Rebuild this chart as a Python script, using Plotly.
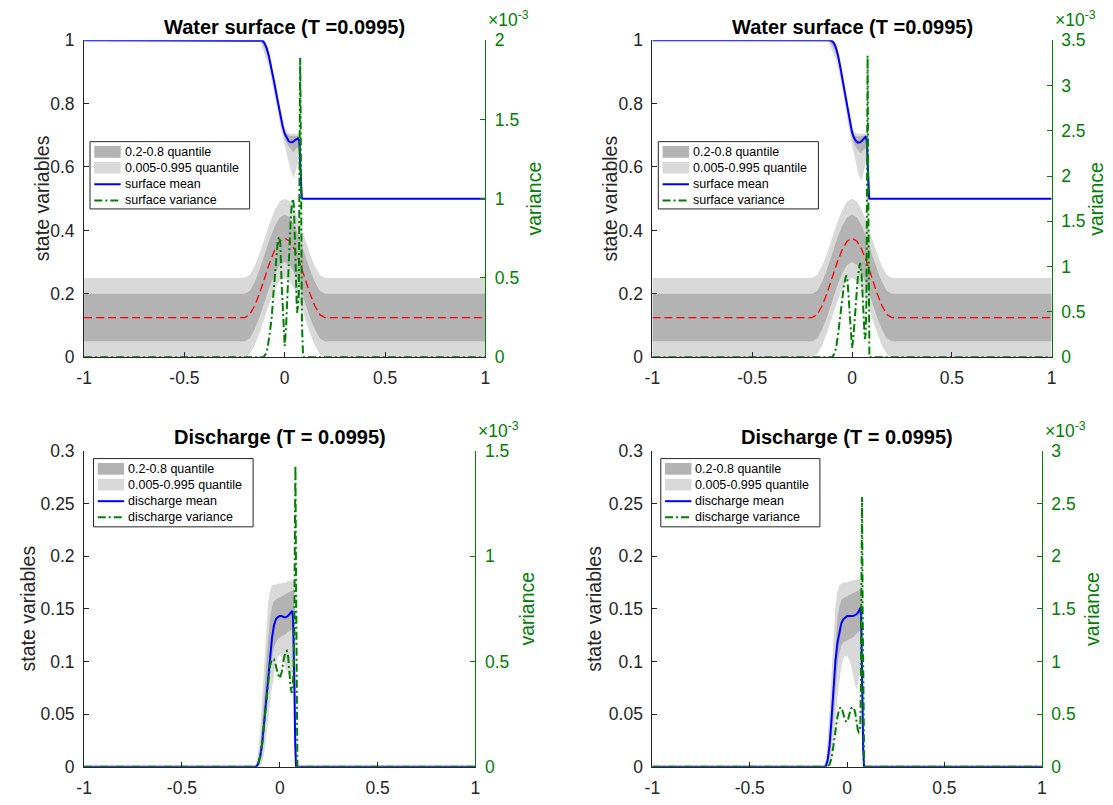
import plotly.graph_objects as go

W, H = 1113, 805

# ======================= DATA =======================
# x ticks
x_tickvals = [-1, -0.5, 0, 0.5, 1]
x_ticktext = ["-1", "-0.5", "0", "0.5", "1"]

# ---- bed (red dashed) and its quantile bands, shared by both surface panels ----
bed_x = [-1, -0.2, -0.175, -0.15, -0.125, -0.1, -0.075, -0.05, -0.025, 0,
         0.025, 0.05, 0.075, 0.1, 0.125, 0.15, 0.175, 0.2, 1]
bed_mean = [0.125, 0.125, 0.134, 0.162, 0.202, 0.25, 0.298, 0.338, 0.366, 0.375,
            0.366, 0.338, 0.298, 0.25, 0.202, 0.162, 0.134, 0.125, 0.125]
bed_q995 = [0.25, 0.25, 0.259, 0.287, 0.327, 0.375, 0.423, 0.463, 0.491, 0.5,
            0.491, 0.463, 0.423, 0.375, 0.327, 0.287, 0.259, 0.25, 0.25]
bed_q80 = [0.2, 0.2, 0.209, 0.237, 0.277, 0.325, 0.373, 0.413, 0.441, 0.45,
           0.441, 0.413, 0.373, 0.325, 0.277, 0.237, 0.209, 0.2, 0.2]
bed_q20 = [0.05, 0.05, 0.059, 0.087, 0.127, 0.175, 0.223, 0.263, 0.291, 0.3,
           0.291, 0.263, 0.223, 0.175, 0.127, 0.087, 0.059, 0.05, 0.05]
bed_q005 = [0.0, 0.0, 0.009, 0.037, 0.077, 0.125, 0.173, 0.213, 0.241, 0.25,
            0.241, 0.213, 0.173, 0.125, 0.077, 0.037, 0.009, 0.0, 0.0]

# ---- water surface, left panel ----
surf_band_x = [-1, -0.12, -0.1, -0.08, -0.06, -0.04, -0.02, 0, 0.01, 0.02, 0.03,
               0.04, 0.045, 0.05, 0.06, 0.07, 0.075, 0.08, 0.085, 0.09, 1]
surfL_q995 = [1, 1, 1, 0.972, 0.913, 0.845, 0.777, 0.722, 0.71, 0.706, 0.705,
              0.705, 0.705, 0.705, 0.705, 0.704, 0.69, 0.6, 0.51, 0.5, 0.5]
surfL_q80 = [1, 1, 0.998, 0.962, 0.903, 0.835, 0.767, 0.713, 0.703, 0.699, 0.698,
             0.698, 0.698, 0.699, 0.7, 0.698, 0.68, 0.57, 0.505, 0.5, 0.5]
surfL_q20 = [1, 1, 0.975, 0.938, 0.878, 0.81, 0.742, 0.69, 0.675, 0.665, 0.655,
             0.648, 0.648, 0.65, 0.66, 0.66, 0.62, 0.53, 0.5, 0.5, 0.5]
surfL_q005 = [1, 0.995, 0.955, 0.918, 0.858, 0.79, 0.722, 0.665, 0.64, 0.615, 0.59,
              0.57, 0.565, 0.575, 0.6, 0.62, 0.58, 0.51, 0.5, 0.5, 0.5]
surfL_x = [-1, -0.12, -0.11, -0.1, -0.09, -0.08, -0.07, -0.06, -0.05, -0.04, -0.03,
           -0.02, -0.01, 0, 0.01, 0.02, 0.03, 0.04, 0.05, 0.06, 0.066, 0.071, 0.075,
           0.078, 0.081, 0.085, 0.09, 1]
surfL_mean = [1, 1, 0.998, 0.99, 0.975, 0.953, 0.925, 0.893, 0.86, 0.825, 0.79,
              0.757, 0.728, 0.705, 0.69, 0.681, 0.678, 0.679, 0.684, 0.689, 0.69,
              0.685, 0.66, 0.6, 0.52, 0.502, 0.5, 0.5]
# variance in units of 1e-3
surfL_var_x = [-1, -0.105, -0.095, -0.085, -0.075, -0.065, -0.055, -0.045, -0.035,
               -0.028, -0.022, -0.015, -0.008, 0, 0.007, 0.015, 0.022, 0.03, 0.036,
               0.041, 0.046, 0.051, 0.056, 0.061, 0.066, 0.07, 0.074, 0.077, 0.079,
               0.082, 0.086, 0.091, 0.095, 1]
surfL_var = [0, 0, 0.02, 0.06, 0.15, 0.25, 0.42, 0.6, 0.73, 0.76, 0.72, 0.45, 0.22,
             0.07, 0.2, 0.47, 0.7, 0.88, 0.97, 1.0, 0.95, 0.78, 0.5, 0.28, 0.32, 0.4,
             1.0, 1.89, 1.6, 0.7, 0.2, 0.02, 0, 0]

# ---- water surface, right panel ----
surfR_q995 = [1, 1, 1, 0.99, 0.94, 0.87, 0.79, 0.73, 0.712, 0.706, 0.705,
              0.705, 0.705, 0.705, 0.705, 0.705, 0.695, 0.6, 0.51, 0.5, 0.5]
surfR_q80 = [1, 1, 1, 0.984, 0.93, 0.86, 0.78, 0.72, 0.702, 0.697, 0.696,
             0.696, 0.697, 0.698, 0.7, 0.7, 0.685, 0.58, 0.505, 0.5, 0.5]
surfR_q20 = [1, 1, 0.985, 0.96, 0.905, 0.835, 0.755, 0.695, 0.675, 0.662, 0.652,
             0.645, 0.645, 0.648, 0.655, 0.66, 0.635, 0.54, 0.5, 0.5, 0.5]
surfR_q005 = [1, 0.995, 0.965, 0.94, 0.885, 0.815, 0.735, 0.67, 0.64, 0.61, 0.585,
              0.565, 0.56, 0.56, 0.59, 0.62, 0.59, 0.52, 0.5, 0.5, 0.5]
surfR_x = [-1, -0.11, -0.1, -0.09, -0.08, -0.07, -0.06, -0.05, -0.04, -0.03, -0.02,
           -0.01, 0, 0.01, 0.02, 0.03, 0.04, 0.05, 0.06, 0.067, 0.072, 0.076, 0.079,
           0.082, 0.086, 0.09, 1]
surfR_mean = [1, 1, 0.997, 0.99, 0.975, 0.952, 0.92, 0.885, 0.85, 0.81, 0.77, 0.737,
              0.71, 0.692, 0.682, 0.677, 0.678, 0.683, 0.69, 0.695, 0.69, 0.665, 0.6,
              0.52, 0.502, 0.5, 0.5]
surfR_var_x = [-1, -0.1, -0.09, -0.08, -0.07, -0.06, -0.05, -0.04, -0.03, -0.024,
               -0.018, -0.012, -0.006, 0, 0.006, 0.012, 0.02, 0.028, 0.035, 0.041,
               0.047, 0.053, 0.059, 0.064, 0.068, 0.072, 0.075, 0.078, 0.081, 0.084,
               0.087, 1]
surfR_var = [0, 0, 0.03, 0.1, 0.25, 0.45, 0.62, 0.8, 0.9, 0.88, 0.7, 0.45, 0.22, 0.1,
             0.2, 0.4, 0.64, 0.85, 0.98, 1.04, 0.95, 0.65, 0.35, 0.2, 0.25, 0.6, 1.8,
             3.33, 2.0, 0.5, 0, 0]

# ---- discharge, left panel ----
dis_band_x = [-1, -0.13, -0.12, -0.11, -0.1, -0.09, -0.08, -0.07, -0.06, -0.05,
              -0.04, -0.03, -0.02, -0.01, 0, 0.01, 0.02, 0.03, 0.04, 0.05, 0.06,
              0.07, 0.074, 0.078, 0.082, 0.086, 1]
disL_q995 = [0, 0, 0.004, 0.015, 0.035, 0.065, 0.1, 0.13, 0.155, 0.167, 0.172,
             0.173, 0.173, 0.174, 0.174, 0.174, 0.175, 0.175, 0.176, 0.176, 0.177,
             0.177, 0.177, 0.12, 0.03, 0, 0]
disL_q80 = [0, 0, 0, 0.005, 0.018, 0.04, 0.068, 0.095, 0.12, 0.14, 0.152, 0.157,
            0.159, 0.16, 0.161, 0.162, 0.163, 0.164, 0.165, 0.166, 0.167, 0.168,
            0.165, 0.09, 0.01, 0, 0]
disL_q20 = [0, 0, 0, 0, 0.004, 0.012, 0.028, 0.048, 0.068, 0.088, 0.103, 0.113,
            0.118, 0.121, 0.123, 0.124, 0.125, 0.126, 0.128, 0.129, 0.13, 0.128,
            0.11, 0.04, 0.005, 0, 0]
disL_q005 = [0, 0, 0, 0, 0, 0.004, 0.012, 0.025, 0.042, 0.06, 0.075, 0.088, 0.098,
             0.104, 0.106, 0.104, 0.1, 0.095, 0.09, 0.087, 0.088, 0.09, 0.07, 0.02,
             0, 0, 0]
disL_x = [-1, -0.12, -0.11, -0.1, -0.09, -0.08, -0.07, -0.06, -0.05, -0.04, -0.03,
          -0.02, -0.01, 0, 0.01, 0.02, 0.03, 0.04, 0.05, 0.058, 0.064, 0.068, 0.071,
          0.075, 0.079, 0.083, 1]
disL_mean = [0, 0, 0.003, 0.01, 0.022, 0.042, 0.063, 0.085, 0.105, 0.122, 0.134,
             0.14, 0.142, 0.143, 0.143, 0.142, 0.142, 0.143, 0.145, 0.147, 0.148,
             0.14, 0.12, 0.07, 0.02, 0, 0]
disL_var_x = [-1, -0.12, -0.11, -0.1, -0.09, -0.08, -0.07, -0.06, -0.05, -0.04,
              -0.03, -0.02, -0.01, 0, 0.01, 0.02, 0.03, 0.036, 0.043, 0.05, 0.056,
              0.062, 0.066, 0.07, 0.074, 0.077, 0.08, 0.083, 0.086, 0.09, 1]
disL_var = [0, 0, 0.015, 0.05, 0.11, 0.21, 0.31, 0.41, 0.48, 0.51, 0.51, 0.48, 0.44,
            0.42, 0.45, 0.51, 0.545, 0.55, 0.52, 0.44, 0.37, 0.35, 0.38, 0.45, 0.6,
            1.1, 1.43, 0.9, 0.2, 0, 0]

# ---- discharge, right panel ----
disR_q995 = [0, 0, 0, 0.006, 0.025, 0.055, 0.09, 0.125, 0.152, 0.166, 0.172, 0.174,
             0.175, 0.175, 0.175, 0.176, 0.176, 0.177, 0.177, 0.178, 0.178, 0.178,
             0.178, 0.16, 0.04, 0, 0]
disR_q80 = [0, 0, 0, 0.002, 0.012, 0.032, 0.06, 0.09, 0.118, 0.14, 0.152, 0.158,
            0.16, 0.161, 0.162, 0.163, 0.164, 0.165, 0.166, 0.167, 0.168, 0.169,
            0.169, 0.13, 0.02, 0, 0]
disR_q20 = [0, 0, 0, 0, 0.003, 0.01, 0.025, 0.05, 0.075, 0.095, 0.108, 0.115, 0.118,
            0.119, 0.12, 0.121, 0.122, 0.123, 0.125, 0.126, 0.128, 0.13, 0.128, 0.08,
            0.01, 0, 0]
disR_q005 = [0, 0, 0, 0, 0, 0.003, 0.01, 0.025, 0.045, 0.065, 0.082, 0.095, 0.102,
             0.105, 0.105, 0.102, 0.097, 0.088, 0.078, 0.073, 0.082, 0.095, 0.09,
             0.04, 0, 0, 0]
disR_x = [-1, -0.11, -0.1, -0.09, -0.08, -0.07, -0.06, -0.05, -0.04, -0.03, -0.02,
          -0.01, 0, 0.01, 0.02, 0.03, 0.04, 0.05, 0.058, 0.064, 0.069, 0.072, 0.075,
          0.079, 0.083, 0.087, 1]
disR_mean = [0, 0, 0.006, 0.02, 0.045, 0.075, 0.1, 0.117, 0.128, 0.136, 0.14, 0.142,
             0.143, 0.143, 0.143, 0.143, 0.144, 0.145, 0.147, 0.149, 0.151, 0.145,
             0.12, 0.06, 0.015, 0, 0]
disR_var_x = [-1, -0.1, -0.09, -0.08, -0.07, -0.06, -0.05, -0.04, -0.032, -0.025,
              -0.018, -0.01, -0.003, 0.004, 0.012, 0.02, 0.028, 0.035, 0.042, 0.049,
              0.055, 0.06, 0.064, 0.068, 0.071, 0.074, 0.077, 0.08, 0.084, 0.088, 1]
disR_var = [0, 0, 0.02, 0.08, 0.2, 0.34, 0.47, 0.55, 0.565, 0.54, 0.48, 0.44, 0.425,
            0.44, 0.5, 0.55, 0.565, 0.56, 0.51, 0.42, 0.35, 0.33, 0.34, 0.4, 0.8, 1.8,
            2.56, 1.5, 0.3, 0, 0]

# ======================= STYLE / LAYOUT =======================
FONT = "Liberation Sans, Arial, Helvetica, sans-serif"
AX = "#262626"
GREEN = "#008000"
BLUE = "#0000ff"
RED = "#ff0000"
DARK = "#b3b3b3"
LIGHT = "#d9d9d9"
VAR_DASH = "8px,3px,2px,3px"
TICK_SIZE = 17.5
LABEL_SIZE = 19.5

# panel boxes in pixels: left, right, top, bottom
panels = [
    dict(l=77, r=483, t=31, b=356, ymax=1.0, yt=[0, 0.2, 0.4, 0.6, 0.8, 1],
         ytt=["0", "0.2", "0.4", "0.6", "0.8", "1"], vmax=2.0,
         vt=[0, 0.5, 1, 1.5, 2], vtt=["0", "0.5", "1", "1.5", "2"],
         title="Water surface (T =0.0995)", lab_l=43, lab_r=49,
         leg=(6, 104, 161.5, 69), what="surface"),
    dict(l=652, r=1056, t=31, b=356, ymax=1.0, yt=[0, 0.2, 0.4, 0.6, 0.8, 1],
         ytt=["0", "0.2", "0.4", "0.6", "0.8", "1"], vmax=3.5,
         vt=[0, 0.5, 1, 1.5, 2, 2.5, 3, 3.5],
         vtt=["0", "0.5", "1", "1.5", "2", "2.5", "3", "3.5"],
         title="Water surface (T =0.0995)", lab_l=43, lab_r=45,
         leg=(6, 104, 162, 69), what="surface"),
    dict(l=77, r=473, t=452, b=776, ymax=0.3,
         yt=[0, 0.05, 0.1, 0.15, 0.2, 0.25, 0.3],
         ytt=["0", "0.05", "0.1", "0.15", "0.2", "0.25", "0.3"], vmax=1.5,
         vt=[0, 0.5, 1, 1.5], vtt=["0", "0.5", "1", "1.5"],
         title="Discharge (T = 0.0995)", lab_l=57, lab_r=52,
         leg=(9.5, 8, 161.5, 70), what="discharge"),
    dict(l=652, r=1046, t=452, b=776, ymax=0.3,
         yt=[0, 0.05, 0.1, 0.15, 0.2, 0.25, 0.3],
         ytt=["0", "0.05", "0.1", "0.15", "0.2", "0.25", "0.3"], vmax=3.0,
         vt=[0, 0.5, 1, 1.5, 2, 2.5, 3], vtt=["0", "0.5", "1", "1.5", "2", "2.5", "3"],
         title="Discharge (T = 0.0995)", lab_l=59, lab_r=51,
         leg=(8.5, 8, 161, 70), what="discharge"),
]


def px(x):
    return x / W


def py(y):
    return 1 - y / H


fig = go.Figure()


def band(xa, upper, lower, color, xr, yr):
    fig.add_trace(go.Scatter(
        x=list(xa) + list(xa)[::-1], y=list(upper) + list(lower)[::-1],
        fill="toself", fillcolor=color, mode="lines", line=dict(width=0),
        xaxis=xr, yaxis=yr, showlegend=False, hoverinfo="skip"))


def line(xa, ya, color, width, dash, xr, yr):
    fig.add_trace(go.Scatter(
        x=xa, y=ya, mode="lines", line=dict(color=color, width=width, dash=dash),
        xaxis=xr, yaxis=yr, showlegend=False, hoverinfo="skip"))


series = [
    dict(bands=[(bed_x, bed_q995, bed_q005, LIGHT), (surf_band_x, surfL_q995, surfL_q005, LIGHT),
                (bed_x, bed_q80, bed_q20, DARK), (surf_band_x, surfL_q80, surfL_q20, DARK)],
         bed=True, mx=surfL_x, my=surfL_mean, vx=surfL_var_x, vy=surfL_var),
    dict(bands=[(bed_x, bed_q995, bed_q005, LIGHT), (surf_band_x, surfR_q995, surfR_q005, LIGHT),
                (bed_x, bed_q80, bed_q20, DARK), (surf_band_x, surfR_q80, surfR_q20, DARK)],
         bed=True, mx=surfR_x, my=surfR_mean, vx=surfR_var_x, vy=surfR_var),
    dict(bands=[(dis_band_x, disL_q995, disL_q005, LIGHT), (dis_band_x, disL_q80, disL_q20, DARK)],
         bed=False, mx=disL_x, my=disL_mean, vx=disL_var_x, vy=disL_var),
    dict(bands=[(dis_band_x, disR_q995, disR_q005, LIGHT), (dis_band_x, disR_q80, disR_q20, DARK)],
         bed=False, mx=disR_x, my=disR_mean, vx=disR_var_x, vy=disR_var),
]

annotations = []
shapes = []
layout_axes = {}

for i, (p, s) in enumerate(zip(panels, series)):
    n = i + 1
    xname = "x" if n == 1 else f"x{n}"
    yl = "y" if n == 1 else f"y{2 * n - 1}"
    yr = f"y{2 * n}"
    for (bx, up, lo, col) in s["bands"]:
        band(bx, up, lo, col, xname, yl)
    if s["bed"]:
        line(bed_x, bed_mean, RED, 1.3, "8px,4px", xname, yl)
    line(s["mx"], s["my"], BLUE, 2, "solid", xname, yl)
    line(s["vx"], s["vy"], GREEN, 2, VAR_DASH, xname, yr)

    xd = [px(p["l"]), px(p["r"])]
    yd = [py(p["b"]), py(p["t"])]
    xkey = "xaxis" if n == 1 else f"xaxis{n}"
    ylkey = "yaxis" if n == 1 else f"yaxis{2 * n - 1}"
    yrkey = f"yaxis{2 * n}"
    layout_axes[xkey] = dict(
        domain=xd, range=[-1, 1], anchor=yl, showline=True, linecolor=AX, linewidth=1,
        ticks="inside", ticklen=5, tickcolor=AX, tickwidth=1,
        tickvals=x_tickvals, ticktext=x_ticktext, showgrid=False, zeroline=False,
        tickfont=dict(family=FONT, size=TICK_SIZE, color=AX), ticklabelstandoff=5)
    layout_axes[ylkey] = dict(
        domain=yd, range=[0, p["ymax"]], anchor=xname, showline=True, linecolor=AX,
        linewidth=1, ticks="inside", ticklen=5, tickcolor=AX, tickwidth=1,
        tickvals=p["yt"], ticktext=p["ytt"], showgrid=False, zeroline=False,
        tickfont=dict(family=FONT, size=TICK_SIZE, color=AX), ticklabelstandoff=5)
    layout_axes[yrkey] = dict(
        overlaying=yl, side="right", range=[0, p["vmax"]], anchor=xname,
        showline=True, linecolor=GREEN, linewidth=1, ticks="inside", ticklen=5,
        tickcolor=GREEN, tickwidth=1, tickvals=p["vt"], ticktext=p["vtt"],
        showgrid=False, zeroline=False,
        tickfont=dict(family=FONT, size=TICK_SIZE, color=GREEN), ticklabelstandoff=5)

    # title
    annotations.append(dict(
        text="<b>" + p["title"] + "</b>", x=px((p["l"] + p["r"]) / 2), y=py(p["t"] - 14),
        xref="paper", yref="paper", xanchor="center", yanchor="middle", showarrow=False,
        font=dict(family=FONT, size=20, color="#000000")))
    # exponent label
    annotations.append(dict(
        text="×10<sup>-3</sup>", x=px(p["r"] + 1), y=py(p["t"] - 8),
        xref="paper", yref="paper", xanchor="left", yanchor="bottom", showarrow=False,
        font=dict(family=FONT, size=TICK_SIZE, color=GREEN)))
    # axis labels
    ymid = (p["t"] + p["b"]) / 2
    annotations.append(dict(
        text="state variables", x=px(p["l"] - p["lab_l"]), y=py(ymid), textangle=-90,
        xref="paper", yref="paper", xanchor="center", yanchor="middle", showarrow=False,
        font=dict(family=FONT, size=LABEL_SIZE, color=AX)))
    annotations.append(dict(
        text="variance", x=px(p["r"] + p["lab_r"]), y=py(ymid), textangle=-90,
        xref="paper", yref="paper", xanchor="center", yanchor="middle", showarrow=False,
        font=dict(family=FONT, size=LABEL_SIZE, color=GREEN)))

    # legend (drawn box)
    ox, oy, bw, bh = p["leg"]
    bx0 = p["l"] + ox
    by0 = p["t"] + oy
    shapes.append(dict(type="rect", xref="paper", yref="paper",
                       x0=px(bx0), x1=px(bx0 + bw), y0=py(by0 + bh), y1=py(by0),
                       line=dict(color=AX, width=1), fillcolor="white", layer="above"))
    rows = [10.5, 26.7, 43.7, 60.3]
    labels = ["0.2-0.8 quantile", "0.005-0.995 quantile",
              p["what"] + " mean", p["what"] + " variance"]
    for k, (ry, lab) in enumerate(zip(rows, labels)):
        cy = by0 + ry
        if k < 2:
            shapes.append(dict(type="rect", xref="paper", yref="paper",
                               x0=px(bx0 + 4.3), x1=px(bx0 + 31), y0=py(cy + 6), y1=py(cy - 6),
                               line=dict(width=0), fillcolor=DARK if k == 0 else LIGHT,
                               layer="above"))
        else:
            shapes.append(dict(type="line", xref="paper", yref="paper",
                               x0=px(bx0 + 4.3), x1=px(bx0 + 31), y0=py(cy), y1=py(cy),
                               line=dict(color=BLUE if k == 2 else GREEN, width=2,
                                         dash="solid" if k == 2 else VAR_DASH),
                               layer="above"))
        annotations.append(dict(
            text=lab, x=px(bx0 + 33), y=py(cy), xref="paper", yref="paper",
            xanchor="left", yanchor="middle", showarrow=False,
            font=dict(family=FONT, size=12.5, color="#000000")))

fig.update_layout(
    width=W, height=H, autosize=False,
    margin=dict(l=0, r=0, t=0, b=0),
    paper_bgcolor="white", plot_bgcolor="white",
    showlegend=False,
    annotations=annotations, shapes=shapes,
    **layout_axes)

# remove the browser's default page margin so the figure sits at the window origin
fig.write_html(
    "out.html",
    config={"displayModeBar": False, "staticPlot": True},
    post_script="document.body.style.margin='0';"
                "document.documentElement.style.overflow='hidden';")
